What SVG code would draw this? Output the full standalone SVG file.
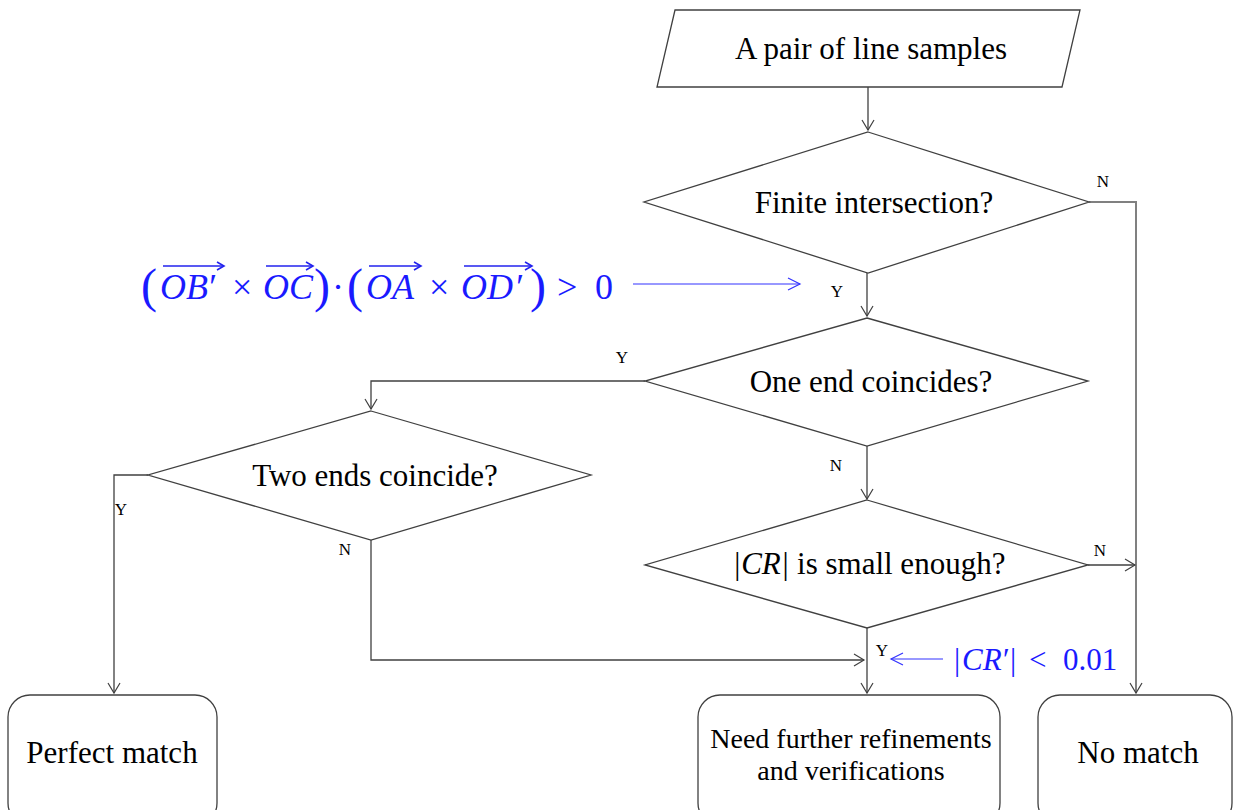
<svg xmlns="http://www.w3.org/2000/svg" width="1234" height="810" viewBox="0 0 1234 810">
<defs>
<marker id="arr" markerWidth="14" markerHeight="14" refX="12" refY="7" orient="auto" markerUnits="userSpaceOnUse">
<path d="M2,1 L12,7 L2,13" fill="none" stroke="#404040" stroke-width="1.2"/>
</marker>
<marker id="arrb" markerWidth="16" markerHeight="14" refX="14" refY="7" orient="auto" markerUnits="userSpaceOnUse">
<path d="M2,1 L14,7 L2,13" fill="none" stroke="#3333ff" stroke-width="1.2"/>
</marker>
<marker id="arrv" markerWidth="10" markerHeight="10" refX="8" refY="5" orient="auto" markerUnits="userSpaceOnUse">
<path d="M1,1 L8,5 L1,9" fill="none" stroke="#2222ee" stroke-width="1.6"/>
</marker>
</defs>
<style>
.shape{fill:#fff;stroke:#404040;stroke-width:1.3}
.ln{fill:none;stroke:#404040;stroke-width:1.3}
.t{font-family:"Liberation Serif","Times New Roman",serif;fill:#000;text-anchor:middle}
.big{font-size:31px}
.sm{font-size:17px}
.m{font-family:"Liberation Serif","DejaVu Serif",serif;fill:#1a1aff;font-size:36px}
.mi{font-style:italic}
.bl{fill:none;stroke:#3333ff;stroke-width:1.2}
.vec{stroke:#2222ee;stroke-width:1.6;fill:none}
</style>
<rect width="1234" height="810" fill="#fff"/>

<g id="connectors">
<path class="ln" d="M868,87 L868,130" marker-end="url(#arr)"/>
<path class="ln" d="M867,273 L867,316" marker-end="url(#arr)"/>
<path class="ln" d="M645,381 L371,381 L371,409" marker-end="url(#arr)"/>
<path class="ln" d="M867,446 L867,499" marker-end="url(#arr)"/>
<path class="ln" d="M148,475 L114,475 L114,693" marker-end="url(#arr)"/>
<path class="ln" d="M371,540 L371,660 L864,660" marker-end="url(#arr)"/>
<path class="ln" d="M867,628 L867,693" marker-end="url(#arr)"/>
<path class="ln" d="M1089,202 L1136,202 L1136,693" marker-end="url(#arr)" style="stroke:#808080;stroke-width:2"/>
<path class="ln" d="M1088,565 L1135,565" marker-end="url(#arr)"/>
<text class="t sm" x="1103" y="187">N</text>
<text class="t sm" x="837" y="297">Y</text>
<text class="t sm" x="622" y="363">Y</text>
<text class="t sm" x="836" y="471">N</text>
<text class="t sm" x="121" y="515">Y</text>
<text class="t sm" x="345" y="555">N</text>
<text class="t sm" x="1100" y="556">N</text>
<text class="t sm" x="882" y="656">Y</text>
</g>

<g id="annot-formula">
<path class="bl" d="M633,284 L800,284" marker-end="url(#arrb)"/>
<text class="m" y="299"><tspan x="141" font-size="48" y="302">(</tspan><tspan x="160" y="299" class="mi">OB</tspan><tspan x="207" class="mi">′</tspan><tspan x="232">×</tspan><tspan x="263" class="mi">OC</tspan><tspan x="314" font-size="48" y="302">)</tspan><tspan x="332" y="299">·</tspan><tspan x="347" font-size="48" y="302">(</tspan><tspan x="366" y="299" class="mi">OA</tspan><tspan x="429">×</tspan><tspan x="461" class="mi">OD</tspan><tspan x="514" class="mi">′</tspan><tspan x="530" font-size="48" y="302">)</tspan><tspan x="557" y="299">&gt;</tspan><tspan x="595">0</tspan></text>
<path class="vec" d="M163,266 L224,266" marker-end="url(#arrv)"/>
<path class="vec" d="M266,266 L313,266" marker-end="url(#arrv)"/>
<path class="vec" d="M369,266 L421,266" marker-end="url(#arrv)"/>
<path class="vec" d="M464,266 L532,266" marker-end="url(#arrv)"/>
</g>

<g id="annot-cr">
<path class="bl" d="M943,659 L891,659" marker-end="url(#arrb)"/>
<text class="m" y="670" style="font-size:31px"><tspan x="954">|</tspan><tspan x="962" class="mi">CR</tspan><tspan x="1001" class="mi">′</tspan><tspan x="1010">|</tspan><tspan x="1029">&lt;</tspan><tspan x="1063">0.01</tspan></text>
</g>

<g id="start">
<polygon class="shape" points="675,10 1080,10 1062,87 657,87"/>
<text class="t big" x="871" y="59">A pair of line samples</text>
</g>

<g id="finite">
<polygon class="shape" points="868,132 1089,202 868,273 644,202"/>
<text class="t big" x="874" y="213">Finite intersection?</text>
</g>

<g id="oneend">
<polygon class="shape" points="867,318 1088,381 867,446 645,381"/>
<text class="t big" x="871" y="392">One end coincides?</text>
</g>

<g id="twoends">
<polygon class="shape" points="371,411 591,475 371,540 148,475"/>
<text class="t big" x="375" y="486">Two ends coincide?</text>
</g>

<g id="cr">
<polygon class="shape" points="867,500 1088,565 867,628 645,565"/>
<text class="t big" x="869" y="574"><tspan class="mi">|CR|</tspan> is small enough?</text>
</g>

<g id="perfect">
<rect class="shape" x="8" y="695" width="209" height="130" rx="22"/>
<text class="t big" x="112" y="763">Perfect match</text>
</g>

<g id="further">
<rect class="shape" x="698" y="695" width="302" height="130" rx="22"/>
<text class="t" x="851" y="748" style="font-size:28px">Need further refinements</text>
<text class="t" x="851" y="780" style="font-size:28px">and verifications</text>
</g>

<g id="nomatch">
<rect class="shape" x="1038" y="695" width="194" height="130" rx="22"/>
<text class="t big" x="1138" y="763">No match</text>
</g>
</svg>
